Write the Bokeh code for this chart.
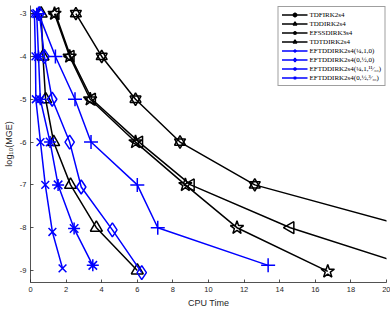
import numpy as np
from bokeh.plotting import figure
from bokeh.models import Range1d, Legend, LegendItem, FixedTicker
from bokeh.embed import file_html
from bokeh.resources import INLINE

# ---- data (CPU time, log10 MGE) ----
tdf_x = [2.55, 4.0, 5.9, 8.4, 12.6, 21.4]
tdf_y = [-3, -4, -5, -6, -7, -8]

tdd_x = [1.4, 2.25, 3.45, 6.1, 9.0, 14.6, 22.1]
tdd_y = [-3, -4, -5, -6, -7, -8, -9]

efss_x = [1.35, 2.2, 3.35, 5.9, 8.7, 11.6, 16.7]
efss_y = [-3, -4, -5, -6, -7, -8, -9.02]

tdt_x = [0.6, 0.7, 0.85, 1.3, 2.25, 3.7, 6.0]
tdt_y = [-3, -4, -5, -6, -7, -8, -9]

eftA_x = [0.45, 1.4, 2.5, 3.4, 6.0, 7.15, 13.35]
eftA_y = [-3, -4, -5, -6, -7, -8, -8.88]

eftB_x = [0.5, 0.78, 1.22, 2.2, 2.85, 4.6, 6.25]
eftB_y = [-3, -4, -5, -6, -7.05, -8.05, -9.05]

eftC_x = [0.35, 0.45, 0.55, 1.1, 1.55, 2.45, 3.5]
eftC_y = [-3, -4, -5, -6, -7, -8.02, -8.88]

eftD_x = [0.22, 0.28, 0.3, 0.56, 0.83, 1.23, 1.8]
eftD_y = [-3, -4, -5, -6, -7, -8.1, -8.95]

labels = ["TDFIRK2s4", "TDDIRK2s4", "EFSSDIRK3s4", "TDTDIRK2s4",
          "EFTDDIRK2s4(¼,1,0)", "EFTDDIRK2s4(0,½,0)",
          "EFTDDIRK2s4(¼,1,¹¹⁄₃₀)", "EFTDDIRK2s4(0,½,³⁄₄₀)"]

x_ticks = [0, 2, 4, 6, 8, 10, 12, 14, 16, 18, 20]
y_ticks = [-9, -8, -7, -6, -5, -4, -3]
y_tick_labels = ["-9", "-8", "-7", "-6", "-5", "-4", "-3"]

BLACK = "#000000"
BLUE = "#0000FF"
AX = "#262626"

p = figure(width=390, height=310, output_backend="svg", toolbar_location=None,
           x_range=Range1d(0, 20), y_range=Range1d(-9.28, -2.81),
           min_border_left=28, min_border_right=4, min_border_top=5,
           min_border_bottom=27)
p.outline_line_color = None
p.xgrid.visible = False
p.ygrid.visible = False
p.background_fill_color = "white"

for ax in (p.xaxis, p.yaxis):
    ax.axis_line_color = AX
    ax.axis_line_width = 0.8
    ax.major_tick_line_color = AX
    ax.major_tick_line_width = 0.8
    ax.major_tick_in = 3
    ax.major_tick_out = 0
    ax.minor_tick_line_color = None
    ax.major_label_text_font = "Liberation Sans"
    ax.major_label_text_font_size = "7.5px"
    ax.major_label_text_color = AX
    ax.major_label_standoff = 4
    ax.axis_label_text_font = "Liberation Sans"
    ax.axis_label_text_font_size = "9px"
    ax.axis_label_text_font_style = "normal"
    ax.axis_label_text_color = AX
    ax.axis_label_standoff = 3

p.xaxis.ticker = FixedTicker(ticks=x_ticks)
p.yaxis.ticker = FixedTicker(ticks=y_ticks)
p.yaxis.major_label_overrides = {t: l for t, l in zip(y_ticks, y_tick_labels)}
p.xaxis.axis_label = "CPU Time"
p.yaxis.axis_label = "log₁₀(MGE)"

LW = 1.5
items = []

def series(xs, ys, color, markers, label):
    rs = [p.line(xs, ys, line_color=color, line_width=LW)]
    for (m, size, ang) in markers:
        rs.append(p.scatter(xs, ys, marker=m, size=size, angle=ang,
                            line_color=color, line_width=LW, fill_color=None))
    items.append(LegendItem(label=label, renderers=rs))

series(tdf_x, tdf_y, BLACK, [("triangle", 11, 0), ("inverted_triangle", 11, 0)], labels[0])
series(tdd_x, tdd_y, BLACK, [("triangle", 12, np.pi / 2)], labels[1])
series(efss_x, efss_y, BLACK, [("star", 14, 0)], labels[2])
series(tdt_x, tdt_y, BLACK, [("triangle", 12, 0)], labels[3])
series(eftA_x, eftA_y, BLUE, [("cross", 14, 0)], labels[4])
series(eftB_x, eftB_y, BLUE, [("diamond", 14, 0)], labels[5])
series(eftC_x, eftC_y, BLUE, [("asterisk", 12, 0)], labels[6])
series(eftD_x, eftD_y, BLUE, [("x", 11, 0)], labels[7])

legend = Legend(items=items, location="top_right")
legend.label_text_font = "Liberation Serif"
legend.label_text_font_size = "7px"
legend.label_text_color = BLACK
legend.glyph_width = 26
legend.glyph_height = 9
legend.label_height = 9
legend.label_standoff = 2
legend.spacing = 0
legend.padding = 3
legend.margin = 1
legend.border_line_color = "#404040"
legend.border_line_width = 0.8
legend.background_fill_color = "white"
legend.background_fill_alpha = 1.0
p.add_layout(legend)

open("out.html", "w").write(file_html(p, INLINE))
